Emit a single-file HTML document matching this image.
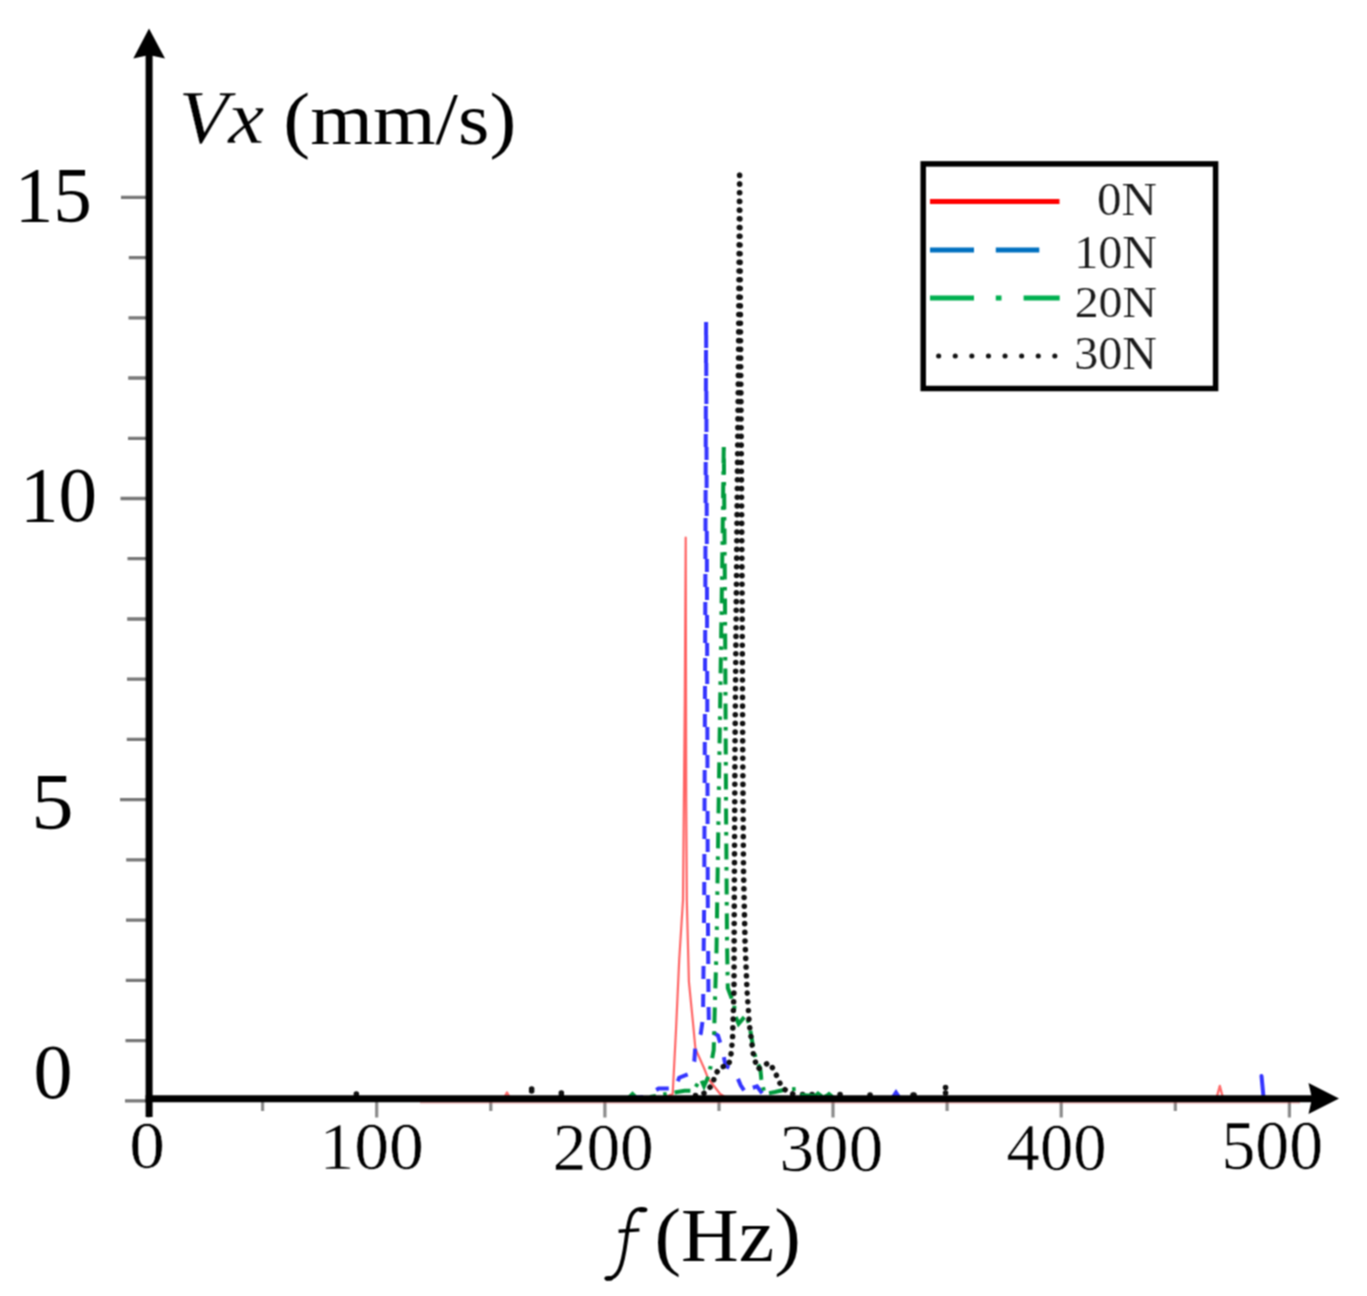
<!DOCTYPE html><html><head><meta charset="utf-8"><style>html,body{margin:0;padding:0;background:#fff;}svg{display:block;}</style></head><body>
<svg width="1367" height="1296" viewBox="0 0 1367 1296" font-family="Liberation Serif, serif">
<defs><filter id="bl" color-interpolation-filters="sRGB" filterUnits="userSpaceOnUse" x="0" y="0" width="1367" height="1296"><feConvolveMatrix order="3" kernelMatrix="1 2 1 2 4 2 1 2 1" divisor="16" edgeMode="none" preserveAlpha="false"/></filter></defs>
<rect width="100%" height="100%" fill="#fff"/><g filter="url(#bl)">
<path d="M125.0 1100.8H148 M125.5 1040.6H148 M125.8 980.3H148 M126.0 920.1H148 M126.2 859.9H148 M120.0 799.6H148 M126.8 739.4H148 M127.0 679.2H148 M127.2 619.0H148 M127.5 558.7H148 M120.5 498.5H148 M128.0 438.3H148 M128.2 378.0H148 M128.5 317.8H148 M128.8 257.6H148 M121.0 197.4H148" stroke="#777" stroke-width="3.3" fill="none"/>
<path d="M148.5 1099V1117.5 M262.6 1099V1111 M376.7 1099V1117.5 M490.8 1099V1111 M604.9 1099V1117.5 M719.0 1099V1111 M833.0 1099V1117.5 M947.1 1099V1111 M1061.2 1099V1117.5 M1175.3 1099V1111 M1289.4 1099V1117.5" stroke="#8a8a8a" stroke-width="3.2" fill="none"/>
<text transform="translate(14.66 221.02) scale(0.7713 0.7836)" font-size="100" fill="#000">15</text>
<text transform="translate(20.07 521.05) scale(0.7701 0.7735)" font-size="100" fill="#000">10</text>
<text transform="translate(31.21 828.70) scale(0.8475 0.7955)" font-size="100" fill="#000">5</text>
<text transform="translate(33.48 1097.74) scale(0.7810 0.7794)" font-size="100" fill="#000">0</text>
<text transform="translate(283.27 144.37) scale(0.8068 0.7444)" font-size="100" fill="#000">(mm/s)</text>
<text transform="translate(654.50 1260.97) scale(0.7994 0.7633)" font-size="100" fill="#000">(Hz)</text>
<text transform="translate(129.14 1168.44) scale(0.7143 0.6809)" font-size="100" stroke="#fff" stroke-width="0.717" stroke-linejoin="round" fill="#000">0</text>
<text transform="translate(319.43 1168.65) scale(0.6971 0.6765)" font-size="100" stroke="#fff" stroke-width="0.728" stroke-linejoin="round" fill="#000">100</text>
<text transform="translate(552.70 1169.66) scale(0.6739 0.6706)" font-size="100" stroke="#fff" stroke-width="0.744" stroke-linejoin="round" fill="#000">200</text>
<text transform="translate(779.54 1170.64) scale(0.6915 0.6824)" font-size="100" stroke="#fff" stroke-width="0.728" stroke-linejoin="round" fill="#000">300</text>
<text transform="translate(1006.57 1170.05) scale(0.6667 0.6765)" font-size="100" stroke="#fff" stroke-width="0.745" stroke-linejoin="round" fill="#000">400</text>
<text transform="translate(1221.44 1168.81) scale(0.6771 0.6971)" font-size="100" stroke="#fff" stroke-width="0.728" stroke-linejoin="round" fill="#000">500</text>
<text transform="translate(178.76 143.47) scale(0.8090 0.7657)" font-size="100" font-style="italic" stroke="#fff" stroke-width="0.381" stroke-linejoin="round" fill="#000">Vx</text>
<path d="M645.5 1209.6C640 1207.8 634.5 1209.5 631.3 1215.2C628.6 1220.5 627.6 1230 626.1 1240C624.6 1251 623.2 1261.5 619.5 1269.5C616.5 1275.8 612.5 1278.8 607 1278.6" fill="none" stroke="#000" stroke-width="3.8" stroke-linecap="round"/>
<path d="M618.6 1231.3L639.4 1229.9" stroke="#000" stroke-width="3.4"/>
<ellipse cx="642.6" cy="1209.9" rx="4.6" ry="2.4" fill="#000"/>
<ellipse cx="608.8" cy="1278.4" rx="4.4" ry="2.3" fill="#000"/>
<text transform="translate(1097.03 214.99) scale(0.4914 0.4574)" font-size="100" stroke="#fff" stroke-width="0.422" stroke-linejoin="round" fill="#1a1a1a">0N</text>
<text transform="translate(1074.27 268.39) scale(0.4807 0.4559)" font-size="100" stroke="#fff" stroke-width="0.427" stroke-linejoin="round" fill="#1a1a1a">10N</text>
<text transform="translate(1074.69 317.00) scale(0.4783 0.4500)" font-size="100" stroke="#fff" stroke-width="0.431" stroke-linejoin="round" fill="#1a1a1a">20N</text>
<text transform="translate(1074.19 369.05) scale(0.4812 0.4735)" font-size="100" stroke="#fff" stroke-width="0.419" stroke-linejoin="round" fill="#1a1a1a">30N</text>
<rect x="923.2" y="163.9" width="292.4" height="224.6" fill="none" stroke="#000" stroke-width="5.5"/>
<path d="M930 201.6H1059.5" stroke="#ff0000" stroke-width="5"/>
<path d="M930 250H974M995.8 250H1039.3" stroke="#0070c0" stroke-width="5"/>
<path d="M930 298H974M995.8 298H1001.5M1023.6 298H1059.7" stroke="#00b050" stroke-width="5"/>
<path d="M938.6 356h0.1M955.2 356h0.1M971.8 356h0.1M988.4 356h0.1M1005.0 356h0.1M1021.6 356h0.1M1038.2 356h0.1M1054.8 356h0.1" stroke="#111" stroke-width="5" stroke-linecap="round"/>
<path d="M503 1100L507 1092.5L511 1100M1216 1100L1219.8 1086L1223.5 1100" fill="none" stroke="#ff6a6a" stroke-width="2.4" stroke-linejoin="round"/>
<path d="M1261.5 1076L1263.5 1097M893 1097L896 1092.5L899 1097" fill="none" stroke="#3434ff" stroke-width="4" stroke-linecap="round"/>
<path d="M629 1097L632.5 1093.5L636 1097M815 1096L818 1093L822 1096M826 1096L829 1093.5L832 1096" fill="none" stroke="#009a3c" stroke-width="3.2" stroke-linecap="round"/>
<path d="M356.3 1094h0.1M356.3 1096h0.1M531.6 1089h0.1M531.6 1091h0.1M561.3 1093h0.1M561.3 1095h0.1M945.5 1087.5h0.1M945.5 1093h0.1M802.5 1094.5h0.1M812 1094.5h0.1M840 1094.5h0.1M870 1095h0.1M914 1095h0.1M913 1095h0.1" stroke="#111" stroke-width="5.5" stroke-linecap="round"/>
<path d="M660.0 1099.0 L672.7 1094.0 L676.0 1030.0 L679.2 960.0 L683.0 900.0 L684.8 700.0 L685.7 537.7 L686.2 800.0 L686.8 900.0 L688.9 981.6 L693.2 1024.8 L695.4 1048.6 L704.0 1068.0 L708.3 1078.8 L720.2 1094.0 L728.0 1099.0" fill="none" stroke="#ff6464" stroke-width="2.2" stroke-linejoin="round"/>
<path d="M630.0 1098.0 L645.0 1097.0 L658.6 1088.5 L669.4 1088.5 L674.8 1089.6 L679.2 1077.7 L690.0 1073.4 L694.3 1061.5 L695.4 1045.3 L700.8 1033.5 L703.0 1018.0 L704.2 900.0 L705.3 600.0 L706.1 321.0 L707.0 600.0 L707.8 900.0 L708.5 1000.0 L709.0 1030.0 L718.0 1035.6 L722.4 1049.7 L725.6 1065.9 L734.3 1070.2 L740.7 1085.3 L747.2 1095.0 L752.0 1088.0 L757.0 1086.4 L763.4 1095.0 L770.0 1098.0" fill="none" stroke="#3434ff" stroke-width="4" stroke-dasharray="13 15" stroke-dashoffset="27.77"/>
<path d="M650.0 1097.0 L684.6 1090.7 L693.2 1090.7 L700.8 1078.8 L704.0 1086.0 L709.0 1075.0 L713.7 1050.0 L715.0 1000.0 L716.5 950.0 L718.0 850.0 L719.3 760.0 L721.7 600.0 L723.8 443.4 L725.0 600.0 L726.0 800.0 L727.0 940.0 L727.8 988.0 L734.3 1005.4 L734.5 1014.0 L738.6 1023.7 L746.1 1015.0 L749.4 1024.8 L753.7 1050.7 L757.0 1062.6 L760.2 1068.0 L761.3 1078.8 L764.5 1094.0 L775.0 1092.0 L785.0 1089.6 L796.0 1089.0 L800.0 1095.0 L830.0 1097.0" fill="none" stroke="#009a3c" stroke-width="4" stroke-dasharray="16 7.5 3.5 8" stroke-dashoffset="10.02"/>
<path d="M690.0 1097.0 L705.0 1093.0 L712.7 1084.2 L714.8 1075.6 L720.2 1067.0 L728.0 1066.0 L730.5 1059.0 L732.5 1040.0 L734.0 990.0 L734.3 900.0 L735.0 750.0 L736.3 600.0 L737.2 500.0 L738.6 350.0 L739.6 171.0 L740.6 350.0 L741.6 500.0 L742.1 600.0 L742.7 750.0 L743.5 870.0 L745.0 940.0 L747.0 990.0 L749.4 1024.8 L751.5 1041.0 L753.7 1057.2 L758.0 1069.0 L763.0 1066.0 L768.8 1062.6 L774.2 1070.2 L778.0 1078.8 L781.8 1087.5 L790.0 1093.0 L800.0 1096.0" fill="none" stroke="#111" stroke-width="5.5" stroke-linecap="round" stroke-dasharray="0.1 8.6" stroke-dashoffset="2.98"/>
<path d="M420 1102.6H1300" stroke="#e05050" stroke-width="1.6" opacity="0.45"/>
<path d="M149.1 54V1117" stroke="#000" stroke-width="7" fill="none"/>
<path d="M145.6 1098.8H1312" stroke="#000" stroke-width="7" fill="none"/>
<path d="M149 28.5L165 58.5L149 55L133.3 58.5Z" fill="#000"/>
<path d="M1339 1098.5L1308.5 1114L1312 1098.5L1308.5 1083Z" fill="#000"/>
</g></svg></body></html>
